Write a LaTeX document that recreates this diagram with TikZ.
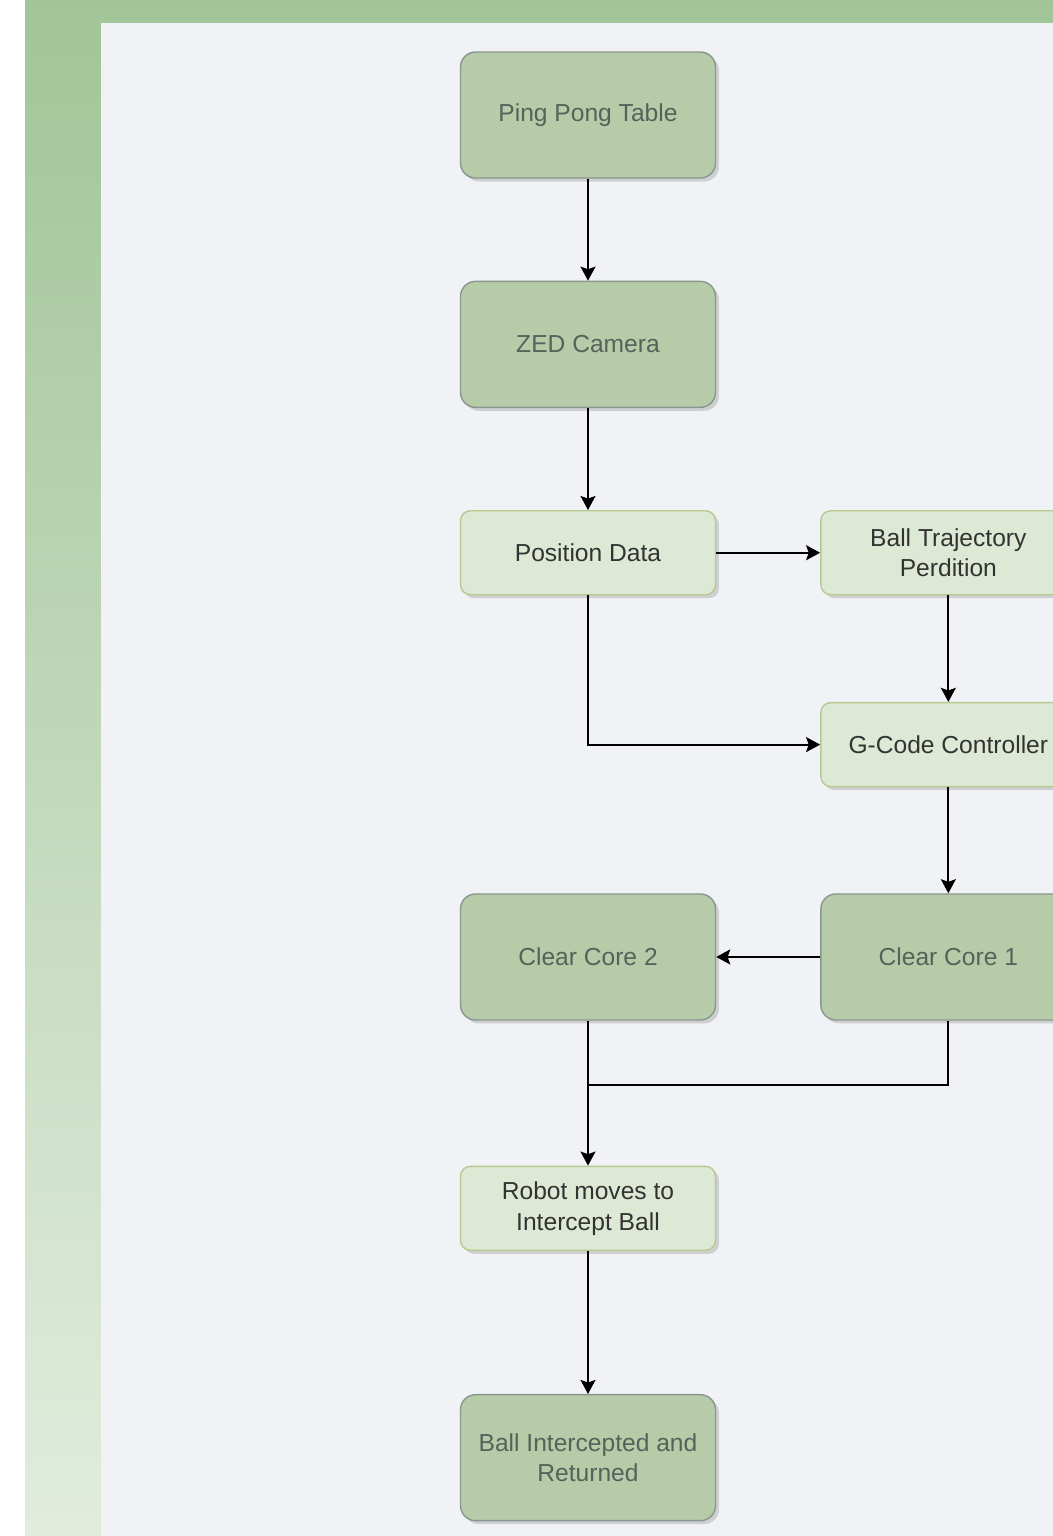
\documentclass[tikz,border=0pt]{standalone}
\usepackage{fontspec}
\setmainfont{Liberation Sans}
\usetikzlibrary{arrows.meta, positioning, shadows}
\definecolor{sagedk}{HTML}{B6CCA8}
\definecolor{sagelt}{HTML}{DDE9D5}
\definecolor{edgedk}{HTML}{8A9690}
\definecolor{edgelt}{HTML}{B7C98E}
\definecolor{textdk}{HTML}{56625A}
\definecolor{panel}{HTML}{F1F2F5}
\definecolor{frametop}{HTML}{A1C598}
\definecolor{framebot}{HTML}{E1ECDD}

\begin{document}
\begin{tikzpicture}[x=0.02cm, y=-0.02cm,
                    node distance=2.04cm and 2.08cm,
                    darkbox/.style={rectangle, rounded corners=0.3cm, draw=edgedk, fill=sagedk,
                        text=textdk, line width=0.8pt, minimum width=5.1cm, minimum height=2.52cm,
                        align=center, font=\fontsize{14}{17.6}\selectfont,
                        drop shadow={opacity=0.3, shadow xshift=2pt, shadow yshift=-2pt}},
                    lightbox/.style={rectangle, rounded corners=0.2cm, draw=edgelt, fill=sagelt,
                        text=black!80, line width=0.8pt, minimum width=5.1cm, minimum height=1.68cm,
                        align=center, font=\fontsize{14}{17.6}\selectfont,
                        drop shadow={opacity=0.3, shadow xshift=2pt, shadow yshift=-2pt}},
                    flow/.style={-{Stealth[length=8pt, width=8.5pt, inset=1.5pt]}, line width=1.2pt, black}]
    \useasboundingbox (0,0) rectangle (1053,1536);
    \clip (0,0) rectangle (1053,1536);
    % frame and panel
    \shade[top color=frametop, bottom color=framebot] (25,0) rectangle (1053,1536);
    \fill[panel] (101,23) rectangle (1053,1536);

    % main column
    \node[darkbox] (table) at (588,115) {Ping Pong Table};
    \node[darkbox, below=of table] (camera) {ZED Camera};
    \node[lightbox, below=of camera] (posdata) {Position Data};
    \node[lightbox, right=of posdata] (traj) {Ball Trajectory\\Perdition};
    \node[lightbox, below=2.13cm of traj] (gcode) {G-Code Controller};
    \node[darkbox, below=2.12cm of gcode] (core1) {Clear Core 1};
    \node[darkbox, left=of core1] (core2) {Clear Core 2};
    \node[lightbox, below=2.9cm of core2] (robot) {Robot moves to\\Intercept Ball};
    \node[darkbox, below=2.86cm of robot] (done) {Ball Intercepted and\\Returned};

    \coordinate (join) at (588,1085);

    % connectors
    \draw[flow] (table) -- (camera);
    \draw[flow] (camera) -- (posdata);
    \draw[flow] (posdata) -- (traj);
    \draw[flow] (traj) -- (gcode);
    \draw[flow] (posdata.south) |- (gcode.west);
    \draw[flow] (gcode) -- (core1);
    \draw[flow] (core1) -- (core2);
    \draw[flow] (core2) -- (robot);
    \draw[line width=1.2pt] (core1.south) |- (join);
    \draw[flow] (robot) -- (done);
\end{tikzpicture}
\end{document}
